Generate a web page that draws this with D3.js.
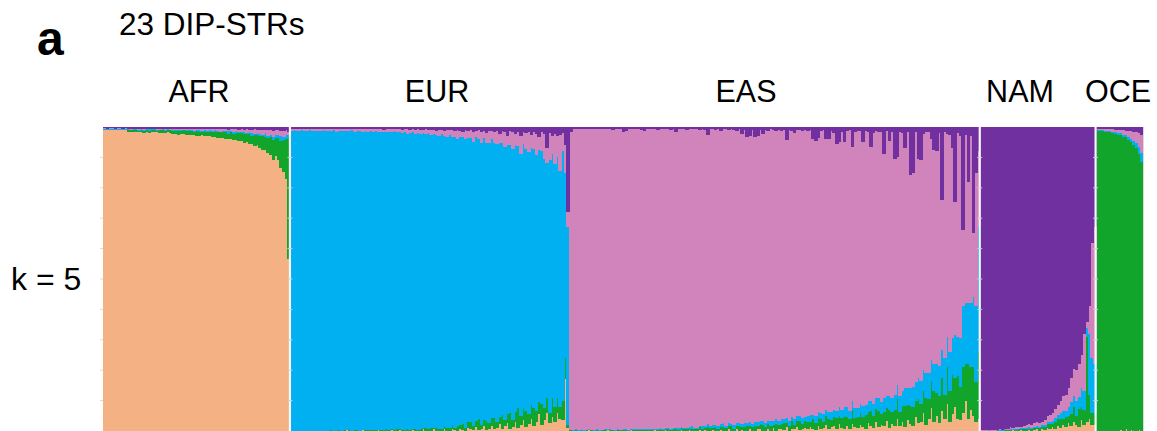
<!DOCTYPE html>
<html>
<head>
<meta charset="utf-8">
<script src="https://cdn.jsdelivr.net/npm/d3@7"></script>
<style>
  html, body { margin: 0; padding: 0; background: #ffffff; }
  svg { display: block; }
  text { font-family: "Liberation Sans", Arial, Helvetica, sans-serif; fill: #000; }
</style>
</head>
<body>
<svg id="chart" width="1157" height="431"></svg>
<script>
// Ancestry clusters, stacked from the bottom of each bar upwards
const clusters = ["AFR", "OCE", "EUR", "EAS", "NAM"];
const clusterColors = ["#F4B183", "#12A52B", "#00B0F0", "#D183BC", "#7030A0"];

// Reference populations, left to right
const populations = ["AFR", "EUR", "EAS", "NAM", "OCE"];
const populationLabels = ["AFR", "EUR", "EAS", "NAM", "OCE"];

// Membership coefficients (%) of the non-native clusters for each individual.
// The native cluster's share is the remainder to 100%.

// AFR individuals (71)
const afrOce = [
  0,0,0,0,0,0,0,0,0,0.5,
  0.6,0.5,0.7,0.6,0.8,0.6,0.7,0.9,0.7,0.8,
  0.6,0.9,1.0,0.8,0.7,0.9,1.0,1.0,1.2,0.9,
  1.3,1.1,1.4,1.2,1.0,1.5,1.3,1.2,1.6,1.4,
  1.5,1.8,1.6,2.0,1.7,1.9,2.2,1.8,2.4,2.0,
  2.3,2.6,2.5,3.0,2.6,3.4,2.8,3.6,3.3,4.0,
  4.6,4.2,5.2,5.8,6.4,6.0,7.5,9.0,10.5,13.0,
  40.0
];
const afrEur = [
  0.3,0.2,0.3,0.3,0.2,0.3,0.3,0.2,0.3,0.3,
  0.2,0.3,0.4,0.3,0.2,0.3,0.3,0.4,0.2,0.3,
  0.3,0.2,0.4,0.3,0.3,0.2,0.3,0.3,0.4,0.3,
  0.2,0.5,0.3,0.3,0.4,0.3,0.6,0.3,0.4,0.3,
  0.4,0.3,0.6,0.4,0.3,0.5,0.4,0.8,0.3,0.5,
  0.6,0.4,0.5,0.8,0.4,0.6,1.0,0.5,0.7,0.8,
  0.6,1.2,0.7,0.9,1.2,0.8,1.0,1.4,1.2,1.5,
  1.0
];
const afrEas = [
  0.2,0.2,0.3,0.2,0.2,0.3,0.2,0.2,0.3,0.2,
  0.3,0.2,0.2,0.3,0.2,0.4,0.2,0.3,0.2,0.2,
  0.4,0.3,0.2,0.3,0.2,0.4,0.3,0.3,0.2,0.5,
  0.3,0.2,0.4,0.3,0.6,0.3,0.4,0.5,0.3,0.6,
  0.4,0.6,0.3,0.5,0.8,0.4,0.6,0.5,0.7,0.9,
  0.6,0.8,0.8,0.6,1.2,0.7,1.0,1.4,0.9,1.2,
  1.6,1.0,1.8,1.5,2.0,1.7,1.5,1.8,2.0,1.5,
  1.0
];
const afrNam = [
  0.4,0.5,0.4,0.4,0.5,0.4,0.4,0.5,0.4,0.5,
  0.6,0.5,0.5,0.6,0.5,0.6,0.5,0.5,0.6,0.5,
  0.5,0.6,0.5,0.6,0.5,0.5,0.6,0.6,0.7,0.6,
  0.6,0.7,0.6,0.8,0.6,0.7,0.6,0.7,0.8,0.6,
  0.7,0.6,0.8,0.7,0.7,0.8,0.7,0.9,0.7,0.8,
  0.7,0.9,0.8,0.9,0.8,1.0,0.9,0.8,1.0,1.0,
  0.9,1.1,1.0,1.0,1.2,1.0,1.0,1.3,1.2,1.0,
  1.5
];

// EUR individuals (106)
const eurAfr = [
  0,0,0,0,0,0,0,0,0,0,
  0,0,0,0,0,0,0,0,0,0,
  0,0.2,0,0,0,0,0,0.2,0,0,
  0,0,0,0.2,0,0,0,0,0.3,0,
  0,0.3,0,0,0,0,0.4,0,0,0,
  0.5,0,0,0,0.5,0,0,0,0.5,0,
  0,0.6,0.3,0,0.8,0.4,0,1.0,0.5,0.3,
  1.2,0.4,0.6,1.5,0.3,0.8,1.8,0.5,1.0,2.2,
  0.6,1.5,2.5,0.8,1.2,3.0,1.0,2.0,3.5,1.2,
  2.4,4.0,1.5,3.0,5.5,2.0,3.6,6.0,2.5,4.5,
  3.0,6.0,4.0,3.5,17.0,1.0
];
const eurOce = [
  0,0.1,0,0.1,0,0.1,0,0,0.1,0,
  0.1,0,0.1,0.1,0,0.2,0,0.1,0.2,0.1,
  0.2,0.1,0.3,0.1,0.2,0.4,0.1,0.2,0.3,0.2,
  0.3,0.2,0.4,0.2,0.3,0.2,0.5,0.3,0.2,0.4,
  0.5,0.3,0.4,0.4,0.6,0.4,0.3,0.7,0.4,0.5,
  0.6,0.9,0.7,1.0,0.6,1.1,0.8,0.7,1.2,0.9,
  1.0,1.4,0.8,1.6,1.2,2.0,1.0,1.8,2.4,1.3,
  2.0,3.4,1.5,2.2,3.0,1.8,2.6,3.8,2.0,2.4,
  4.5,2.2,3.0,5.0,2.5,3.4,6.5,3.0,4.0,5.5,
  3.2,4.4,6.0,3.6,4.0,7.0,4.0,5.0,3.5,6.5,
  5.0,5.0,4.0,6.5,7.0,1.0
];
const eurEas = [
  0.6,0.5,0.7,0.6,0.5,0.8,0.6,0.5,0.7,0.6,
  0.7,0.6,0.5,0.8,0.6,0.7,0.5,0.9,0.6,0.7,
  0.6,0.8,0.7,0.5,0.9,0.6,0.7,1.0,0.6,0.8,
  0.7,0.9,0.6,1.0,0.8,0.7,1.1,0.8,0.9,0.7,
  1.0,0.8,1.2,0.9,1.4,1.0,0.8,1.5,1.1,1.3,
  1.2,1.6,1.0,1.8,1.3,1.5,2.0,1.2,1.7,2.2,
  1.5,2.4,1.8,2.8,2.0,1.6,3.0,2.2,2.6,3.4,
  2.0,3.0,3.8,2.4,3.2,4.0,2.6,3.6,4.4,3.0,
  3.8,5.0,3.2,4.5,5.5,3.6,4.8,6.0,4.0,5.2,
  6.5,4.2,5.8,7.0,4.5,6.2,8.0,5.0,9.0,6.0,
  10.0,7.0,12.0,6.0,9.0,5.0
];
const eurNam = [
  0.6,0.5,0.6,0.7,0.5,0.6,0.6,0.5,0.7,0.6,
  0.6,0.7,0.5,0.6,0.6,0.7,0.5,0.6,0.7,0.6,
  0.6,0.5,0.7,0.6,0.8,0.6,0.5,0.7,0.6,0.8,
  0.7,0.6,0.8,0.6,0.7,0.9,0.6,0.7,0.8,0.6,
  0.8,0.7,0.9,0.7,0.8,1.0,0.7,0.9,0.8,1.0,
  0.9,0.8,1.1,0.9,1.0,1.2,0.9,1.0,1.3,1.0,
  1.1,1.0,1.4,1.0,1.2,1.6,1.1,1.3,1.0,1.5,
  1.2,1.0,1.6,1.3,2.0,1.2,1.4,1.8,1.2,2.4,
  1.4,1.6,2.8,1.3,1.8,2.2,1.5,3.0,1.6,2.0,
  1.8,2.6,1.5,2.2,3.2,1.8,2.4,7.0,2.0,2.8,
  2.2,3.0,2.5,2.0,6.0,28.0
];

// EAS individuals (156)
const easAfr = [
  0,0,0,0,0,0,0,0.2,0,0,
  0,0,0,0,0.2,0,0,0,0,0,
  0,0,0,0.2,0,0,0,0,0,0,
  0,0,0.2,0,0,0,0.3,0,0,0,
  0,0,0.3,0,0,0.3,0,0,0,0.3,
  0,0.4,0,0,0.4,0,0,0.4,0,0,
  0.5,0,0,0.5,0,0.4,0,0,0.6,0,
  0,0.6,0.8,0,0,0.7,0,0.9,0,0.5,
  0.8,0.3,1.2,0,0.7,0.5,1.4,0.4,0.6,1.0,
  0.5,1.2,0.8,0.4,1.6,0.6,1.0,2.0,0.5,1.2,
  1.5,0.6,2.2,1.0,0.8,1.8,0.5,2.4,1.2,0.9,
  2.0,1.4,0.8,2.6,1.6,1.0,3.0,1.2,2.0,1.5,
  3.2,1.0,2.4,1.8,4.0,1.5,2.8,1.2,3.5,2.2,
  1.5,4.5,2.5,3.0,6.0,2.0,4.0,7.5,3.0,5.0,
  2.5,6.5,4.0,9.0,3.0,5.5,8.0,4.0,3.5,6.0,
  10.0,4.0,7.0,5.0,3.0,4.0
];
const easOce = [
  0.2,0.1,0.3,0.1,0.2,0.1,0.3,0.1,0.2,0.1,
  0.3,0.1,0.2,0.3,0.1,0.2,0.3,0.1,0.3,0.2,
  0.2,0.3,0.1,0.3,0.4,0.2,0.3,0.4,0.2,0.4,
  0.3,0.4,0.2,0.4,0.5,0.3,0.4,0.5,0.3,0.5,
  0.5,0.4,0.7,0.5,0.6,0.4,0.8,0.5,0.5,0.9,
  0.8,0.6,1.2,0.9,0.7,1.3,0.8,1.0,1.4,0.9,
  1.0,1.5,0.8,1.2,1.6,1.0,1.4,1.8,1.1,1.3,
  1.6,1.0,1.4,2.0,1.2,1.5,1.8,1.2,2.2,1.4,
  1.5,2.4,1.3,1.8,2.6,1.5,2.0,2.8,1.6,2.2,
  2.5,1.8,3.0,2.2,2.6,3.4,2.0,2.8,3.6,2.4,
  3.0,3.8,2.6,3.2,4.2,2.8,3.6,4.5,3.0,3.8,
  4.0,3.2,4.6,3.5,5.0,3.8,4.2,5.5,3.6,4.8,
  4.4,5.8,4.0,5.2,6.5,4.6,5.5,7.0,5.0,6.0,
  6.5,5.5,8.0,6.0,7.0,9.0,6.5,8.5,10.0,7.5,
  9.0,11.0,8.0,12.0,10.0,13.0,9.5,14.0,11.0,15.0,
  12.0,18.0,14.0,16.0,13.0,22.0
];
const easEur = [
  0.1,0.1,0.2,0.2,0.1,0.2,0.1,0.2,0.2,0.1,
  0.2,0.2,0.1,0.2,0.2,0.3,0.1,0.2,0.3,0.2,
  0.3,0.2,0.3,0.2,0.3,0.3,0.2,0.3,0.4,0.3,
  0.3,0.3,0.4,0.3,0.4,0.4,0.3,0.4,0.5,0.4,
  0.4,0.5,0.4,0.6,0.5,0.5,0.7,0.5,0.6,0.5,
  0.8,0.7,1.0,0.8,0.9,0.7,1.0,0.9,1.1,0.8,
  1.0,0.9,1.2,0.8,1.1,1.0,1.3,0.9,1.2,1.1,
  1.2,1.4,1.0,1.3,1.5,1.1,1.4,1.2,1.6,1.3,
  1.5,1.2,1.7,1.4,1.3,1.8,1.5,1.6,2.0,1.5,
  1.8,2.2,1.6,2.4,2.0,1.8,2.6,2.2,2.0,2.8,
  2.4,2.2,3.0,2.6,2.8,3.2,2.5,3.0,3.4,2.8,
  3.0,3.6,3.2,3.8,3.4,4.0,3.5,4.2,3.8,4.4,
  4.0,4.6,4.4,5.0,4.6,5.4,5.0,5.8,5.5,6.0,
  6.5,6.0,7.0,7.5,7.0,8.0,8.5,7.5,9.0,9.5,
  10.0,9.0,12.0,10.0,13.0,12.0,14.0,13.0,16.0,20.0,
  20.0,20.0,21.0,23.0,25.0,41.0
];
const easNam = [
  1.5,0.8,0.6,0.7,0.6,0.8,0.6,0.7,0.6,0.8,
  0.7,0.6,0.8,0.6,0.7,0.6,0.9,0.7,0.6,0.8,
  1.6,1.2,0.7,0.6,0.8,0.7,0.6,0.9,1.4,0.7,
  0.8,0.6,0.7,0.9,0.6,0.8,0.7,0.6,0.9,0.7,
  1.6,0.8,0.7,0.6,0.9,0.8,0.7,0.6,0.8,0.9,
  0.7,1.0,2.6,0.8,0.7,0.9,0.8,1.2,0.7,0.8,
  1.0,0.8,0.9,1.2,0.8,2.4,1.0,3.3,3.0,0.9,
  3.2,2.8,1.0,2.4,0.9,1.2,0.8,1.0,1.4,0.9,
  1.2,0.9,4.3,1.0,1.3,2.0,1.1,0.9,1.2,1.0,
  1.4,1.0,4.0,4.5,3.6,1.2,1.0,3.8,4.0,1.2,
  2.0,5.6,5.0,1.5,4.8,1.2,1.0,6.6,1.6,1.2,
  1.4,4.8,1.2,1.5,6.6,2.0,1.3,1.6,1.5,8.9,
  1.4,4.6,1.5,10.5,10.0,1.6,2.0,7.0,1.8,15.8,
  15.0,1.8,10.5,11.0,2.2,1.5,1.8,4.0,7.5,8.0,
  2.0,24.0,1.8,2.2,2.5,7.0,24.7,2.0,3.0,34.0,
  2.5,18.0,3.0,35.0,15.0,8.0
];

// NAM individuals (44)
const namAfr = [
  0,0,0,0,0,0,0,0,0,0,
  0,0,0.2,0,0,0.3,0,0,0.4,0,
  0.3,0.5,0,0.7,0.4,1.0,0.6,1.2,0.8,1.5,
  1.0,2.0,1.2,2.5,1.5,3.0,2.0,1.2,3.5,2.0,
  3.0,4.0,2.0,2.0
];
const namOce = [
  0,0.1,0,0.1,0,0.1,0.2,0.1,0.1,0.3,
  0.2,0.4,0.2,0.3,0.5,0.3,0.5,0.7,0.4,0.8,
  0.6,0.5,0.9,0.7,1.0,1.2,1.6,1.0,2.0,2.4,
  3.0,2.0,3.5,2.5,4.0,5.0,3.0,6.0,4.5,5.0,
  28.0,8.0,4.0,4.0
];
const namEur = [
  0.1,0,0.1,0.1,0.1,0,0.1,0.2,0.1,0.2,
  0.2,0.3,0.2,0.3,0.2,0.3,0.4,0.3,0.4,0.3,
  0.4,0.5,0.4,0.6,0.5,0.8,0.6,1.0,1.4,1.2,
  2.0,2.5,1.8,3.0,4.0,3.5,5.0,4.0,6.0,6.0,
  3.0,20.0,18.0,16.0
];
const namEas = [
  0.1,0.1,0.1,0.2,0.1,0.1,0.1,0.2,0.1,0.3,
  0.4,0.5,0.4,0.6,0.5,0.5,0.9,1.0,1.2,1.0,
  1.2,1.4,1.2,1.0,1.6,2.0,2.4,2.8,3.0,3.5,
  4.0,5.0,5.5,6.0,8.0,9.0,10.0,11.0,11.0,19.0,
  2.0,9.0,38.0,45.0
];

// OCE individuals (18)
const oceAfr = [0,0,0,0,0,0,0,0,0,0.4,0,0.5,0,0.4,0,0,0.3,0];
const oceEur = [0.3,0.3,0.4,0.3,0.4,0.4,0.5,0.5,0.6,0.6,0.7,0.8,1.0,1.2,1.5,1.8,2.5,3.0];
const oceEas = [0.3,0.4,0.3,0.5,0.4,0.6,0.7,0.8,1.0,1.2,1.5,1.4,2.0,2.4,3.0,3.5,4.5,6.0];
const oceNam = [0.6,0.7,0.6,0.7,0.8,0.7,0.8,0.9,1.0,0.9,1.1,1.2,1.2,1.4,1.5,1.6,2.0,2.5];

const minorShares = {
  AFR: { OCE: afrOce, EUR: afrEur, EAS: afrEas, NAM: afrNam },
  EUR: { AFR: eurAfr, OCE: eurOce, EAS: eurEas, NAM: eurNam },
  EAS: { AFR: easAfr, OCE: easOce, EUR: easEur, NAM: easNam },
  NAM: { AFR: namAfr, OCE: namOce, EUR: namEur, EAS: namEas },
  OCE: { AFR: oceAfr, EUR: oceEur, EAS: oceEas, NAM: oceNam }
};

// ---- layout ----
const plot = { left: 103, right: 1143, top: 127, bottom: 431 };
const labelX = [199, 437, 746, 1020, 1118];   // population label anchors
const labelBaseline = 102;
const separatedAfter = ["AFR", "EAS", "NAM"];

// one row per individual with a fraction per cluster
const individuals = [];
populations.forEach(pop => {
  const table = minorShares[pop];
  const n = d3.min(Object.values(table), a => a.length);
  for (let i = 0; i < n; i++) {
    const row = { id: pop + "_" + i, pop };
    let other = 0;
    clusters.forEach(c => {
      if (c !== pop) { row[c] = table[c][i] / 100; other += table[c][i]; }
    });
    row[pop] = Math.max(0, 100 - other) / 100;
    individuals.push(row);
  }
});

const svg = d3.select("#chart");

const x = d3.scaleBand()
  .domain(individuals.map(d => d.id))
  .range([plot.left, plot.right])
  .paddingInner(0).paddingOuter(0);

const y = d3.scaleLinear().domain([0, 1]).range([plot.bottom, plot.top]);
const color = d3.scaleOrdinal().domain(clusters).range(clusterColors);

const series = d3.stack().keys(clusters)(individuals);

// bars: each one slightly overlaps its right neighbour so no seams show
svg.append("g")
  .attr("shape-rendering", "crispEdges")
  .selectAll("g")
  .data(series)
  .join("g")
    .attr("fill", s => color(s.key))
  .selectAll("rect")
  .data(s => s)
  .join("rect")
    .attr("x", d => x(d.data.id))
    .attr("width", x.bandwidth() + 1)
    .attr("y", d => y(d[1]))
    .attr("height", d => Math.max(0, y(d[0]) - y(d[1])));

// faint 10% tick marks on the left edge
const tickVals = d3.range(1, 10).map(k => k / 10);
svg.append("g")
  .selectAll("line")
  .data(tickVals)
  .join("line")
    .attr("x1", plot.left - 3).attr("x2", plot.left)
    .attr("y1", d => y(d)).attr("y2", d => y(d))
    .attr("stroke", "#d9d9d9").attr("stroke-width", 1);

// white separators between population blocks
const sepPositions = separatedAfter.map(pop => {
  const next = populations[populations.indexOf(pop) + 1];
  const first = individuals.find(d => d.pop === next);
  return x(first.id);
});
const sepG = svg.append("g");
sepG.selectAll("line.sep")
  .data(sepPositions)
  .join("line")
    .attr("class", "sep")
    .attr("x1", d => d).attr("x2", d => d)
    .attr("y1", plot.top).attr("y2", plot.bottom)
    .attr("stroke", "#f7f7f7").attr("stroke-width", 2.2);
sepPositions.forEach(sx => {
  sepG.selectAll(null)
    .data(tickVals)
    .join("line")
      .attr("x1", sx - 2.5).attr("x2", sx + 2.5)
      .attr("y1", d => y(d)).attr("y2", d => y(d))
      .attr("stroke", "#cfcfcf").attr("stroke-width", 1);
});

// right frame edge
svg.append("line")
  .attr("x1", plot.right + 0.5).attr("x2", plot.right + 0.5)
  .attr("y1", plot.top).attr("y2", plot.bottom)
  .attr("stroke", "#d9d9d9").attr("stroke-width", 1);

// ---- text ----
svg.append("text")
  .attr("x", 37).attr("y", 55)
  .attr("font-size", 48).attr("font-weight", "bold")
  .text("a");

svg.append("text")
  .attr("x", 119).attr("y", 35)
  .attr("font-size", 31.5)
  .text("23 DIP-STRs");

svg.append("g")
  .selectAll("text")
  .data(populationLabels)
  .join("text")
    .attr("x", (d, i) => labelX[i])
    .attr("y", labelBaseline)
    .attr("text-anchor", "middle")
    .attr("font-size", 30.5)
    .text(d => d);

svg.append("text")
  .attr("x", 11).attr("y", 290)
  .attr("font-size", 32)
  .text("k = 5");
</script>
</body>
</html>
